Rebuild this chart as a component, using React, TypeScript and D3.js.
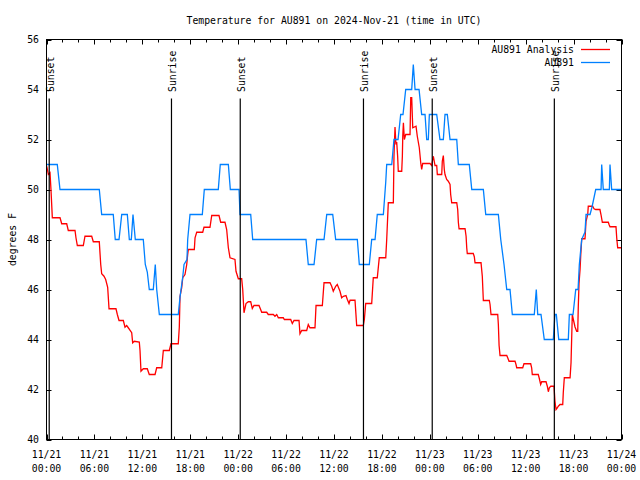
import React from "react";
import * as d3 from "d3";

// Hours since 2024-11-21 00:00 UTC
const redHours = [0.03,0.23,0.44,0.56,0.73,1.69,1.82,1.90,2.53,2.73,3.57,3.69,3.86,4.61,4.82,5.66,5.86,6.61,6.79,6.91,7.20,7.41,7.66,7.83,8.70,8.87,9.08,9.62,9.83,10.04,10.24,10.67,10.79,10.99,11.62,11.71,11.83,12.12,12.62,12.87,13.59,13.80,14.43,14.63,15.38,15.59,16.50,16.63,16.72,16.93,17.06,17.34,17.56,17.68,17.76,18.51,18.60,18.81,19.56,19.72,20.47,20.69,21.60,21.81,22.35,22.56,22.77,22.98,23.60,23.73,24.02,24.44,24.57,24.73,24.98,25.27,25.57,25.77,25.98,26.61,26.95,27.57,27.77,28.40,28.61,28.83,29.03,29.65,29.78,30.58,30.78,30.99,31.62,31.74,31.96,32.58,32.78,32.99,33.62,33.75,34.54,34.75,35.50,35.71,35.91,36.21,36.41,36.75,36.96,37.17,37.50,37.67,37.88,38.01,38.63,38.84,39.67,39.80,39.97,40.72,40.92,41.42,41.67,42.48,42.60,42.80,43.43,43.51,43.64,43.76,43.85,43.97,44.05,44.48,44.56,44.61,44.69,44.81,44.98,45.10,45.52,45.61,45.73,45.86,46.27,46.43,46.68,46.86,46.98,47.11,48.02,48.23,48.36,48.44,48.65,48.86,48.94,49.49,49.56,49.69,49.81,49.90,50.11,50.31,50.53,50.61,50.74,51.37,51.49,51.57,51.66,52.41,52.54,52.62,52.69,53.44,53.57,53.66,54.41,54.57,54.70,55.45,55.54,55.66,56.50,56.58,56.67,56.79,57.63,57.75,57.92,58.67,58.79,58.88,59.63,59.79,60.63,60.75,60.83,61.58,61.71,61.88,62.01,62.55,62.71,62.84,62.96,63.14,63.55,63.67,63.80,63.96,64.09,64.30,64.64,64.71,64.84,65.56,65.68,65.84,65.97,66.18,66.39,66.52,66.59,66.68,66.81,66.89,67.02,67.43,67.56,67.77,67.84,68.39,68.56,68.77,69.30,69.43,69.60,70.35,70.44,70.56,71.31,71.40,71.52,72.0];
const redTemps = [50.93,50.6,50.67,50.0,48.87,48.87,48.73,48.63,48.63,48.36,48.36,48.07,47.76,47.76,48.13,48.13,47.91,47.91,47.0,46.63,46.53,46.4,46.09,45.23,45.23,45.0,44.76,44.76,44.49,44.56,44.47,44.27,43.87,43.93,43.9,43.56,42.73,42.83,42.83,42.6,42.6,42.87,42.87,43.56,43.56,43.83,43.83,44.5,45.73,46.07,46.47,46.6,47.0,47.4,47.6,47.6,48.07,48.29,48.29,48.49,48.49,48.96,48.96,48.69,48.69,48.4,47.67,47.27,47.2,46.73,46.43,46.43,46.0,45.07,45.44,45.51,45.51,45.24,45.36,45.36,45.09,45.09,45.0,45.0,44.93,45.0,44.87,44.87,44.8,44.8,44.64,44.76,44.76,44.23,44.36,44.36,44.6,44.47,44.47,45.36,45.36,46.27,46.27,46.13,45.93,46.13,46.2,45.93,45.67,45.73,45.76,45.6,45.44,45.57,45.57,44.56,44.56,44.8,45.44,45.44,46.47,46.47,47.27,47.27,48.0,49.47,49.47,51.33,52.5,51.8,51.9,51.33,50.73,50.73,51.33,52.13,52.67,52.0,52.2,52.2,52.2,53.67,53.67,52.47,52.53,52.13,51.67,51.07,50.8,51.04,51.04,50.96,51.2,51.33,50.96,50.96,50.6,50.6,51.13,51.36,50.8,50.6,50.4,50.33,50.2,49.8,49.47,49.47,49.2,48.69,48.43,48.43,48.13,47.67,47.44,47.44,47.31,47.07,47.07,46.53,45.56,45.56,45.4,45.0,45.0,44.6,43.77,43.36,43.36,43.27,43.13,43.13,43.0,42.87,42.87,43.03,43.03,42.87,42.6,42.6,42.44,42.2,42.31,42.31,42.13,41.91,42.07,42.13,42.13,41.53,41.2,41.27,41.33,41.4,41.4,41.87,42.47,42.47,43.07,45.0,44.8,44.5,44.33,44.33,45.33,46.24,46.8,47.33,48.03,48.03,48.73,49.0,49.33,49.33,49.23,49.2,49.2,49.0,48.69,48.69,48.6,48.51,48.51,48.07,47.67,47.67];

const blueHours = [0.0,1.35,1.69,6.61,6.91,8.36,8.61,9.08,9.42,10.12,10.37,10.62,10.83,11.12,12.12,12.37,12.62,12.87,13.37,13.62,13.80,14.13,16.50,16.72,17.06,17.22,17.59,17.68,17.97,19.51,19.76,21.51,21.76,22.77,23.02,24.11,24.23,25.57,25.82,32.49,32.78,33.50,33.83,34.75,35.09,35.84,36.21,38.92,39.17,40.42,40.72,41.14,41.42,42.18,42.48,42.60,43.23,43.51,44.02,44.35,44.64,44.98,45.73,45.93,46.15,46.65,46.98,47.40,47.61,47.81,47.94,48.86,49.27,49.69,49.90,50.19,50.53,51.37,51.57,52.94,53.25,54.70,55.00,56.58,56.88,57.29,57.63,58.04,58.33,61.08,61.33,61.51,61.92,62.33,63.46,63.67,63.84,64.14,65.34,65.47,65.93,66.27,66.56,66.72,67.02,67.43,67.56,68.06,68.31,68.77,69.44,69.52,69.72,70.48,70.56,70.77,72.0];
const blueTemps = [51,51,50,50,49,49,48,48,49,49,48,48,49,48,48,47,46.7,46,46,47,46,45,45,45.7,46.5,47,47.2,48,49,49,50,50,51,51,50,50,49,49,48,48,47,47,48,48,49,49,48,48,47,47,48,48,49,49,50.3,51,51,52,52,53,53,54,54,55,54,54,53,53,52,52,53,53,52,52,53,53,52,52,51,51,50,50,49,49,48,47,46,46,45,45,46,45,45,44,44,45,45,44,44,45,45,46,46,47,48,48.3,49,49,49.3,50,50,51,50,50,51,50,50];

const sunHours = [0.34, 15.65, 24.26, 39.69, 48.3, 63.59];
const sunLabels = ["Sunset", "Sunrise", "Sunset", "Sunrise", "Sunset", "Sunrise"];

const yTicks = [40, 42, 44, 46, 48, 50, 52, 54, 56];
const xMajorHours = [0, 6, 12, 18, 24, 30, 36, 42, 48, 54, 60, 66, 72];
const xTickDates = ["11/21","11/21","11/21","11/21","11/22","11/22","11/22","11/22","11/23","11/23","11/23","11/23","11/24"];
const xTickTimes = ["00:00","06:00","12:00","18:00","00:00","06:00","12:00","18:00","00:00","06:00","12:00","18:00","00:00"];

const seriesNames = ["AU891 Analysis", "AU891"];
const seriesColors = ["#ff0000", "#0080ff"];

const FONT = "'DejaVu Sans Mono', 'Liberation Mono', monospace";

export default function App() {
  const L = 46.5, R = 621.5, T = 39.5, B = 439.5;
  const x = d3.scaleLinear().domain([0, 72]).range([L, R]);
  const y = d3.scaleLinear().domain([40, 56]).range([B, T]);

  const line = d3.line<[number, number]>().x(d => x(d[0])).y(d => y(d[1]));
  const redData: [number, number][] = redHours.map((h, i) => [h, redTemps[i]]);
  const blueData: [number, number][] = blueHours.map((h, i) => [h, blueTemps[i]]);

  const minorHours = d3.range(0, 73, 2).filter(h => h % 6 !== 0);

  return (
    <svg width={640} height={480} style={{ position: "absolute", left: 0, top: 0, background: "#fff" }}
      fontFamily={FONT} fontSize={9.8}>
      <rect x={0} y={0} width={640} height={480} fill="#fff" />
      <text x={(L + R) / 2} y={23.5} textAnchor="middle">Temperature for AU891 on 2024-Nov-21 (time in UTC)</text>
      <text transform={`translate(16,${(T + B) / 2}) rotate(-90)`} textAnchor="middle">degrees F</text>

      {/* y ticks */}
      {yTicks.map(v => (
        <g key={"y" + v}>
          <line x1={L} x2={L + 5} y1={Math.round(y(v)) + 0.5} y2={Math.round(y(v)) + 0.5} stroke="#000" />
          <line x1={R} x2={R - 5} y1={Math.round(y(v)) + 0.5} y2={Math.round(y(v)) + 0.5} stroke="#000" />
          <text x={39} y={y(v) + 3.5} textAnchor="end">{v}</text>
        </g>
      ))}

      {/* x ticks */}
      {xMajorHours.map((h, i) => (
        <g key={"x" + h}>
          <line x1={Math.round(x(h)) + 0.5} x2={Math.round(x(h)) + 0.5} y1={B} y2={B - 5} stroke="#000" />
          <line x1={Math.round(x(h)) + 0.5} x2={Math.round(x(h)) + 0.5} y1={T} y2={T + 5} stroke="#000" />
          <text x={x(h)} y={458} textAnchor="middle">{xTickDates[i]}</text>
          <text x={x(h)} y={471.5} textAnchor="middle">{xTickTimes[i]}</text>
        </g>
      ))}
      {minorHours.map(h => (
        <g key={"m" + h}>
          <line x1={Math.round(x(h)) + 0.5} x2={Math.round(x(h)) + 0.5} y1={B} y2={B - 3} stroke="#000" />
          <line x1={Math.round(x(h)) + 0.5} x2={Math.round(x(h)) + 0.5} y1={T} y2={T + 3} stroke="#000" />
        </g>
      ))}

      {/* series */}
      <path d={line(redData) || ""} fill="none" stroke={seriesColors[0]} strokeWidth={1.3} />
      <path d={line(blueData) || ""} fill="none" stroke={seriesColors[1]} strokeWidth={1.3} />

      {/* sunrise / sunset markers */}
      {sunHours.map((h, i) => (
        <g key={"s" + i}>
          <line x1={x(h)} x2={x(h)} y1={98.5} y2={B} stroke="#000" strokeWidth={1.2} />
          <text transform={`translate(${x(h) + 5},92) rotate(-90)`} textAnchor="start">{sunLabels[i]}</text>
        </g>
      ))}

      {/* legend */}
      {seriesNames.map((n, i) => (
        <g key={"l" + i}>
          <text x={574} y={53 + i * 13} textAnchor="end">{n}</text>
          <line x1={581} x2={610} y1={49.5 + i * 13} y2={49.5 + i * 13} stroke={seriesColors[i]} strokeWidth={1.3} />
        </g>
      ))}

      <rect x={L} y={T} width={R - L} height={B - T} fill="none" stroke="#000" strokeWidth={1} />
    </svg>
  );
}
